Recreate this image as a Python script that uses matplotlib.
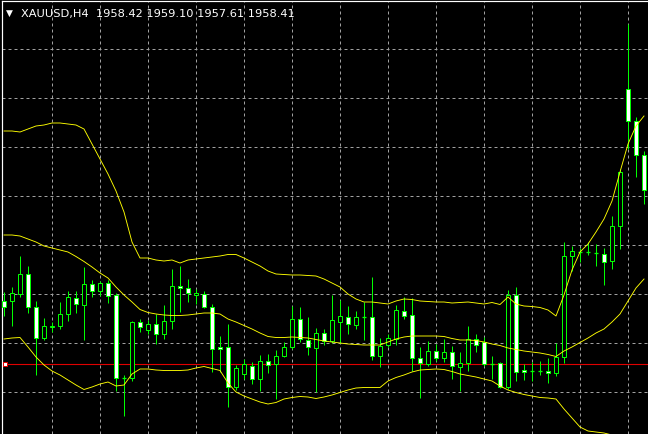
import numpy as np
import matplotlib
matplotlib.use("Agg")
import matplotlib.pyplot as plt
import matplotlib.transforms as mtransforms

# ---------------- data ----------------
symbol_label = "XAUUSD,H4"
header_values = ["1958.42", "1959.10", "1957.61", "1958.41"]

opens = [1964.2, 1964.2, 1964.9, 1966.9, 1963.6, 1960.5, 1961.65, 1961.7, 1962.9, 1964.5,
         1963.8, 1965.9, 1965.2, 1966.0, 1964.8, 1956.55, 1956.5, 1962.1, 1961.3, 1961.9,
         1960.9, 1962.2, 1965.7, 1965.5, 1964.8, 1964.9, 1963.6, 1959.6, 1959.6, 1955.6,
         1956.9, 1957.7, 1956.4, 1958.2, 1957.9, 1958.7, 1959.6, 1962.4, 1960.3, 1959.5,
         1961.0, 1960.2, 1962.1, 1962.6, 1961.8, 1962.6, 1962.6, 1958.7, 1959.8, 1960.4,
         1963.2, 1962.8, 1958.5, 1957.9, 1959.2, 1958.5, 1959.1, 1957.6, 1958.0, 1960.4,
         1960.1, 1957.9, 1958.0, 1955.6, 1964.8, 1957.3, 1957.2, 1957.2, 1957.2, 1957.0,
         1958.6, 1968.7, 1969.1, 1969.1, 1969.0, 1968.9, 1968.2, 1971.7, 1985.4, 1982.2,
         1978.8]
highs = [1965.1, 1965.6, 1968.7, 1967.7, 1964.2, 1962.5, 1962.1, 1964.1, 1965.2, 1965.2,
         1967.6, 1966.3, 1966.2, 1966.3, 1965.0, 1956.8, 1962.2, 1962.4, 1962.3, 1962.9,
         1963.8, 1967.4, 1967.7, 1966.4, 1965.4, 1965.2, 1963.9, 1960.7, 1961.9, 1957.8,
         1958.4, 1958.1, 1958.8, 1958.9, 1959.3, 1960.1, 1963.7, 1963.6, 1962.6, 1961.5,
         1961.4, 1964.8, 1964.3, 1963.7, 1963.2, 1964.1, 1966.6, 1960.5, 1960.9, 1963.8,
         1964.6, 1964.5, 1959.6, 1960.2, 1959.9, 1960.4, 1959.7, 1959.1, 1961.7, 1960.9,
         1960.6, 1958.7, 1958.1, 1965.3, 1965.6, 1957.9, 1958.1, 1958.2, 1958.5, 1960.0,
         1970.1, 1969.7, 1969.5, 1970.1, 1969.9, 1969.5, 1972.7, 1977.4, 1991.9, 1982.6,
         1979.2]
lows = [1962.7, 1961.7, 1964.6, 1963.0, 1956.8, 1960.3, 1961.1, 1961.4, 1962.2, 1963.0,
        1960.3, 1964.6, 1964.7, 1964.0, 1955.2, 1952.7, 1956.2, 1961.1, 1960.9, 1959.9,
        1960.4, 1961.4, 1963.1, 1964.1, 1963.9, 1963.5, 1957.1, 1957.1, 1953.6, 1955.3,
        1956.4, 1955.9, 1955.2, 1957.0, 1954.4, 1958.6, 1959.4, 1960.1, 1958.8, 1955.1,
        1959.8, 1960.0, 1960.0, 1960.9, 1961.4, 1960.3, 1958.3, 1957.6, 1959.6, 1959.8,
        1962.4, 1957.2, 1954.5, 1957.7, 1958.2, 1958.1, 1956.4, 1955.2, 1957.2, 1959.1,
        1957.7, 1956.4, 1955.5, 1955.4, 1956.2, 1956.3, 1956.2, 1956.8, 1956.0, 1956.7,
        1958.0, 1967.2, 1968.1, 1968.8, 1967.7, 1965.8, 1967.4, 1969.4, 1979.4, 1976.6,
        1973.9]
closes = [1963.6, 1965.0, 1966.9, 1963.6, 1960.5, 1961.7, 1961.75, 1962.9, 1964.6, 1963.9,
          1965.9, 1965.2, 1966.0, 1964.7, 1956.5, 1956.5, 1962.1, 1961.6, 1961.9, 1960.9,
          1962.2, 1965.7, 1965.5, 1965.0, 1965.0, 1963.6, 1959.4, 1959.4, 1955.6, 1957.5,
          1957.9, 1956.4, 1958.2, 1957.8, 1958.7, 1959.6, 1962.4, 1960.4, 1959.6, 1961.0,
          1960.2, 1962.3, 1962.7, 1961.9, 1962.6, 1962.6, 1958.7, 1959.7, 1960.5, 1963.3,
          1962.7, 1958.5, 1958.0, 1959.2, 1958.5, 1959.1, 1957.7, 1958.0, 1960.4, 1959.8,
          1957.9, 1957.9, 1955.6, 1964.8, 1957.1, 1957.1, 1957.2, 1957.2, 1957.0, 1958.6,
          1968.7, 1969.2, 1969.1, 1969.1, 1969.0, 1968.1, 1971.7, 1977.1, 1982.2, 1978.8,
          1975.3]

bb_upper = [1981.2, 1981.2, 1981.1, 1981.4, 1981.7, 1981.8, 1982.0, 1982.0, 1981.9, 1981.8,
            1981.4, 1979.9, 1978.4, 1976.9, 1975.2, 1973.1, 1970.1, 1968.5, 1968.5, 1968.3,
            1968.2, 1968.3, 1968.0, 1968.3, 1968.4, 1968.5, 1968.6, 1968.7, 1968.85, 1968.85,
            1968.5, 1968.1, 1967.7, 1967.2, 1966.9, 1966.85, 1966.8, 1966.8, 1966.75, 1966.7,
            1966.4, 1966.0, 1965.6, 1964.9, 1964.4, 1964.1, 1964.1, 1964.0, 1963.9, 1964.2,
            1964.4, 1964.35, 1964.2, 1964.15, 1964.1, 1964.1, 1964.0, 1964.05, 1964.1, 1964.0,
            1963.9, 1964.05, 1963.85, 1964.6, 1963.9, 1963.7, 1963.65, 1963.55, 1963.3, 1962.7,
            1964.8, 1967.3, 1969.1, 1969.9, 1971.1, 1972.4, 1974.2, 1977.1, 1979.9, 1981.7,
            1982.7]
bb_middle = [1970.8, 1970.8, 1970.7, 1970.4, 1970.1, 1969.7, 1969.5, 1969.3, 1969.1, 1968.65,
             1968.15, 1967.6, 1967.0, 1966.5, 1965.6, 1964.8, 1964.1, 1963.35, 1963.05, 1962.9,
             1962.8, 1962.75, 1962.75, 1962.8, 1962.9, 1963.0, 1963.0, 1962.9, 1962.4, 1962.1,
             1961.75, 1961.4, 1961.0, 1960.65, 1960.55, 1960.55, 1960.6, 1960.55, 1960.5, 1960.35,
             1960.2, 1960.1, 1960.0, 1959.9, 1959.85, 1959.8, 1959.8, 1959.8, 1960.1, 1960.4,
             1960.6, 1960.7, 1960.7, 1960.7, 1960.7, 1960.65, 1960.45, 1960.3, 1960.3, 1960.25,
             1960.1, 1959.9, 1959.75, 1959.5, 1959.35, 1959.2, 1959.1, 1959.0, 1958.85, 1958.65,
             1959.2, 1959.6, 1960.05, 1960.5, 1961.0, 1961.4, 1962.1, 1962.9, 1964.2, 1965.5,
             1966.4]
bb_lower = [1960.4, 1960.5, 1960.55, 1959.6, 1958.6, 1957.8, 1957.2, 1956.8, 1956.3, 1955.8,
            1955.35, 1955.6, 1955.9, 1956.1, 1955.7, 1955.8, 1956.9, 1957.4, 1957.4, 1957.3,
            1957.25, 1957.25, 1957.25, 1957.3, 1957.5, 1957.65, 1957.45, 1957.25, 1956.0, 1955.1,
            1954.7, 1954.4, 1954.1, 1953.9, 1954.05, 1954.4, 1954.55, 1954.65, 1954.6, 1954.45,
            1954.6, 1954.8, 1955.05, 1955.3, 1955.5, 1955.55, 1955.55, 1955.55, 1956.2, 1956.55,
            1956.8, 1957.1, 1957.3, 1957.35, 1957.4, 1957.35, 1957.15, 1956.9, 1956.75, 1956.6,
            1956.4, 1956.2, 1955.7, 1955.3, 1955.05, 1954.85, 1954.7, 1954.55, 1954.5, 1954.4,
            1953.4, 1952.5, 1951.6, 1951.2, 1951.1, 1951.0, 1950.8, 1950.4, 1949.9, 1949.4,
            1948.9]

red_line_level = 1957.9

# ---------------- styling ----------------
W, H, DPI = 648, 435, 100
PX = 72.0 / DPI          # one pixel in points
LIME = "#00ff00"
YELLOW = "#ffff00"
GRID = "#a0a0a0"
RED = "#e00000"

fig = plt.figure(figsize=(W / DPI, H / DPI), dpi=DPI, facecolor="black")
ax = fig.add_axes([2 / W, 0, (W - 2) / W, (H - 2) / H])
ax.set_facecolor("black")

n = len(opens)
x = np.arange(n)
o = np.array(opens)
h = np.array(highs)
l = np.array(lows)
c = np.array(closes)

ax.set_xlim(-0.25, 80.5)
ax.set_ylim(1950.9, 1994.2)

# grid
ax.set_xticks(np.arange(6, n, 6))
ax.set_yticks(np.arange(1955.1, 1994.0, 4.9))
ax.grid(True, color=GRID, linestyle=(0, (3, 3)), linewidth=PX)
ax.set_axisbelow(True)
ax.tick_params(length=0, labelleft=False, labelbottom=False)

for side in ("right", "bottom"):
    ax.spines[side].set_visible(False)
for side in ("left", "top"):
    ax.spines[side].set_color("white")
    ax.spines[side].set_linewidth(PX * 1.2)

# red horizontal line with its marker
ax.axhline(red_line_level, color=RED, linewidth=PX * 1.1, zorder=1.2)
trans = mtransforms.blended_transform_factory(ax.transAxes, ax.transData)
ax.plot([0.0045], [red_line_level], marker="s", markersize=3.2,
        markerfacecolor="white", markeredgecolor=RED, markeredgewidth=PX,
        transform=trans, clip_on=False, zorder=6)

# wicks
ax.vlines(x, l, h, colors=LIME, linewidth=PX, zorder=2)

# bodies
body_w = 0.5
diff = c - o
doji = np.abs(diff) < 0.05
bull = (diff > 0) & ~doji
bear = (diff < 0) & ~doji
ax.bar(x[bull], diff[bull], bottom=o[bull], width=body_w, facecolor="black",
       edgecolor=LIME, linewidth=PX, zorder=3)
ax.bar(x[bear], diff[bear], bottom=o[bear], width=body_w, facecolor="white",
       edgecolor=LIME, linewidth=PX, zorder=3)
ax.hlines(o[doji], x[doji] - body_w / 2, x[doji] + body_w / 2, colors=LIME,
          linewidth=PX * 1.3, zorder=3)

# Bollinger bands
for band in (bb_upper, bb_middle, bb_lower):
    ax.plot(x, band, color=YELLOW, linewidth=PX * 0.9, zorder=4)

# header text
fig.text(6 / W, 1 - 16.0 / H, "\u25bc", color="white", fontsize=6.5,
         family="DejaVu Sans", va="baseline", ha="left")
fig.text(21 / W, 1 - 17.3 / H, symbol_label + "  " + " ".join(header_values),
         color="white", fontsize=8.2, family="DejaVu Sans", va="baseline", ha="left")

fig.savefig("out.png", dpi=DPI, facecolor="black")
